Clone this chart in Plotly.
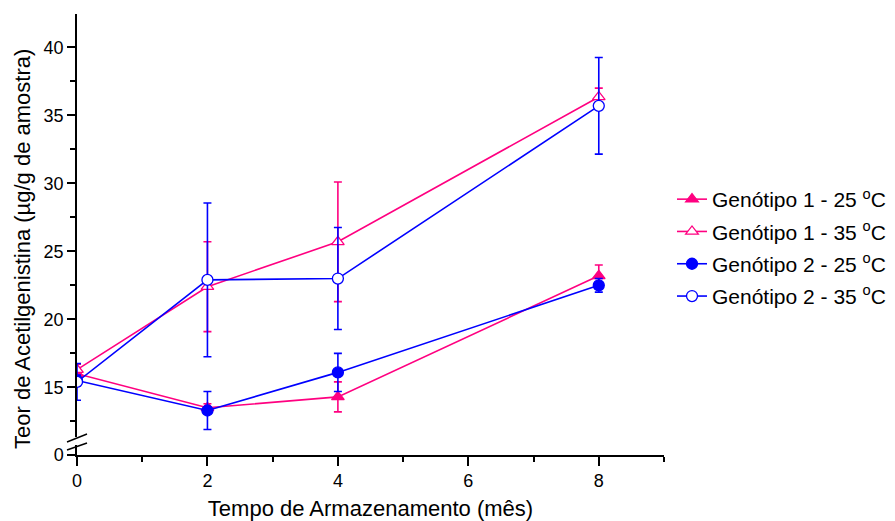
import plotly.graph_objects as go

# Storage time (months)
tempo = [0, 2, 4, 8]

# Acetylgenistin content (µg/g sample) and standard deviations
g1_25 = [16.0, 13.5, 14.3, 23.2]
g1_25_err = [0.3, 0.3, 1.1, 0.8]
g1_35 = [16.3, 22.4, 25.7, 36.35]
g1_35_err = [0.4, 3.3, 4.4, 0.65]
g2_25 = [15.5, 13.3, 16.1, 22.5]
g2_25_err = [0.4, 1.4, 1.4, 0.5]
g2_35 = [15.4, 22.9, 23.0, 35.7]
g2_35_err = [1.35, 5.65, 3.75, 3.55]

series_names = [
    "Genótipo 1 - 25 <sup>o</sup>C",
    "Genótipo 1 - 35 <sup>o</sup>C",
    "Genótipo 2 - 25 <sup>o</sup>C",
    "Genótipo 2 - 35 <sup>o</sup>C",
]
x_ticks = [0, 2, 4, 6, 8]
y_ticks = [15, 20, 25, 30, 35, 40]

PINK = "#FF0080"
BLUE = "#0000FF"
FONT = "Arial, Liberation Sans, sans-serif"

W, H = 895, 521
L, R, T, B = 77, 231, 14, 66
PW, PH = W - L - R, H - T - B

def px_x(p):
    return (p - L) / PW

def px_y(p):
    return (H - B - p) / PH

styles = [
    (g1_25, g1_25_err, PINK, "triangle-up", PINK),
    (g1_35, g1_35_err, PINK, "triangle-up", "white"),
    (g2_25, g2_25_err, BLUE, "circle", BLUE),
    (g2_35, g2_35_err, BLUE, "circle", "white"),
]

fig = go.Figure()
# empty trace so the lower (below-the-break) subplot gets drawn
fig.add_trace(go.Scatter(x=[], y=[], xaxis="x", yaxis="y", showlegend=False,
                         hoverinfo="skip"))
for i, (vals, errs, col, sym, fill) in enumerate(styles):
    fig.add_trace(go.Scatter(
        x=tempo, y=vals, name=series_names[i],
        xaxis="x2", yaxis="y2",
        mode="lines+markers",
        line=dict(color=col, width=1.6),
        marker=dict(symbol=sym, size=11, color=fill,
                    line=dict(color=col, width=1.3)),
        error_y=dict(type="data", array=errs, color=col, thickness=1.6, width=4),
        legendgroup=f"g{i}",
    ))

axis_common = dict(
    showline=True, linecolor="black", linewidth=1.5,
    ticks="outside", tickcolor="black", tickwidth=1.5,
    showgrid=False, zeroline=False, automargin=False,
    tickfont=dict(family=FONT, size=18, color="black"),
)

fig.update_layout(
    template="none",
    width=W, height=H,
    margin=dict(l=L, r=R, t=T, b=B, autoexpand=False),
    plot_bgcolor="white", paper_bgcolor="white",
    font=dict(family=FONT, color="black"),
    showlegend=True,
    legend=dict(
        x=px_x(672), y=px_y(248), xanchor="left", yanchor="middle",
        font=dict(family=FONT, size=21, color="black"),
        traceorder="grouped", tracegroupgap=2,
        bgcolor="rgba(0,0,0,0)", borderwidth=0,
    ),
    # bottom axis segment below the break (holds the x axis and the 0 tick)
    xaxis=dict(
        axis_common, domain=[0, 1], range=[0, 9], anchor="y",
        tickvals=x_ticks, ticklen=9,
        minor=dict(dtick=1, tick0=0, ticks="outside", ticklen=5,
                   tickcolor="black", tickwidth=1.5, showgrid=False),
        title=dict(text="Tempo de Armazenamento (mês)",
                   font=dict(family=FONT, size=22, color="black"), standoff=14),
    ),
    yaxis=dict(
        axis_common, domain=[0, 10 / PH], range=[0, 0.74], anchor="x",
        tickvals=[0], ticklen=8,
    ),
    # main segment above the break
    xaxis2=dict(domain=[0, 1], range=[0, 9], anchor="y2", matches="x", visible=False),
    yaxis2=dict(
        axis_common, domain=[18 / PH, 1], range=[11.35, 42.45], anchor="x2",
        tickvals=y_ticks, ticklen=8,
        minor=dict(dtick=2.5, tick0=0, ticks="outside", ticklen=5,
                   tickcolor="black", tickwidth=1.5, showgrid=False),
    ),
)

# axis-break marks
for y0, y1 in [(442, 434), (450, 443)]:
    fig.add_shape(type="line", xref="paper", yref="paper",
                  x0=px_x(67), y0=px_y(y0), x1=px_x(87), y1=px_y(y1),
                  line=dict(color="black", width=1.5))

fig.add_annotation(
    text="Teor de Acetilgenistina (µg/g de amostra)",
    xref="paper", yref="paper", x=px_x(22), y=px_y(249),
    xanchor="center", yanchor="middle", textangle=-90, showarrow=False,
    font=dict(family=FONT, size=22, color="black"),
)

fig.write_html("out.html")
